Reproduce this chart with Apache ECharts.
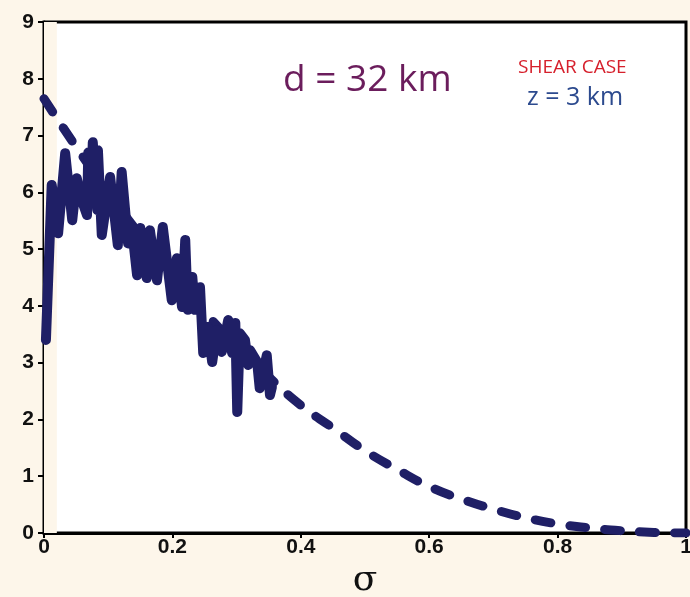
<!DOCTYPE html>
<html>
<head>
<meta charset="utf-8">
<title>d = 32 km</title>
<script src="https://cdn.jsdelivr.net/npm/echarts@6/dist/echarts.min.js"></script>
<style>
  html, body { margin: 0; padding: 0; background: #fdf6ea; overflow: hidden; }
  #main { width: 100vw; height: 100vh; }
</style>
</head>
<body>
<div id="main"></div>
<script>
// dashed reference curve (sigma, value)
var smoothSigma = [0, 0.05, 0.1, 0.15, 0.2, 0.25, 0.3, 0.35, 0.4, 0.45, 0.5,
                   0.55, 0.6, 0.65, 0.7, 0.75, 0.8, 0.85, 0.9, 0.95, 1];
var smoothVal = [7.65, 6.8, 6.0, 5.25, 4.6, 3.9, 3.3, 2.75, 2.25, 1.85, 1.45,
                 1.12, 0.82, 0.6, 0.42, 0.27, 0.16, 0.09, 0.04, 0.01, 0];

// noisy solid curve
var noisySigma = [0.003, 0.012, 0.022, 0.033, 0.044, 0.051, 0.059, 0.067, 0.069, 0.073,
                  0.076, 0.083, 0.084, 0.090, 0.103, 0.115, 0.121, 0.131, 0.137, 0.145,
                  0.150, 0.160, 0.165, 0.176, 0.185, 0.199, 0.207, 0.215, 0.220, 0.224,
                  0.231, 0.235, 0.243, 0.248, 0.255, 0.262, 0.269, 0.277, 0.287, 0.293,
                  0.298, 0.301, 0.305, 0.313, 0.318, 0.321, 0.332, 0.336, 0.347, 0.352, 0.355];
var noisyVal = [3.40, 6.13, 5.28, 6.69, 5.51, 6.25, 5.86, 5.60, 6.70, 5.86,
                6.88, 5.69, 6.74, 5.25, 6.27, 5.07, 6.36, 5.10, 5.37, 4.54,
                5.37, 4.49, 5.33, 4.45, 5.39, 4.10, 4.84, 3.98, 5.16, 3.93,
                4.51, 3.93, 4.33, 3.17, 3.63, 3.01, 3.57, 3.19, 3.75, 3.17,
                3.70, 2.13, 3.52, 3.40, 2.96, 3.22, 3.01, 2.55, 3.13, 2.43, 2.57];

var xTicks = [0, 0.2, 0.4, 0.6, 0.8, 1];
var yTicks = [0, 1, 2, 3, 4, 5, 6, 7, 8, 9];

function pairs(xs, ys) {
  var out = [];
  for (var i = 0; i < xs.length; i++) out.push([xs[i], ys[i]]);
  return out;
}

var chart = echarts.init(document.getElementById('main'));
var lineColor = '#1f1f66';
var labelFont = { color: '#111', fontSize: 21, fontWeight: 'bold', fontFamily: 'Liberation Sans, Arial, sans-serif' };

chart.setOption({
  backgroundColor: '#fdf6ea',
  animation: false,
  grid: {
    left: 44, right: 4, top: 22, bottom: 64,
    outerBoundsMode: 'none', containLabel: false,
    show: true, backgroundColor: '#ffffff', borderColor: '#000', borderWidth: 3
  },
  xAxis: {
    type: 'value', min: 0, max: 1, interval: 0.2,
    name: 'σ', nameLocation: 'middle', nameGap: 30,
    nameTextStyle: { fontSize: 36, fontFamily: 'DejaVu Serif, serif', color: '#111' },
    axisLine: { show: true, lineStyle: { color: '#000', width: 3 } },
    axisTick: { show: true, length: 5, lineStyle: { color: '#000', width: 2 } },
    axisLabel: Object.assign({ margin: 4, formatter: function (v) { return xTicks.indexOf(+v.toFixed(1)) >= 0 ? String(+v.toFixed(1)) : ''; } }, labelFont),
    splitLine: { show: false }
  },
  yAxis: {
    type: 'value', min: 0, max: 9, interval: 1,
    axisLine: { show: true, lineStyle: { color: '#000', width: 3 } },
    axisTick: { show: true, length: 6, lineStyle: { color: '#000', width: 2 } },
    axisLabel: Object.assign({ margin: 10, formatter: function (v) { return yTicks.indexOf(v) >= 0 ? String(v) : ''; } }, labelFont),
    splitLine: { show: false }
  },
  series: [
    {
      type: 'line', data: pairs(smoothSigma, smoothVal), smooth: true, symbol: 'none', z: 2,
      lineStyle: { color: lineColor, width: 9, type: [16, 19], cap: 'round' },
      markArea: {
        silent: true,
        itemStyle: { color: '#fdf6ea' },
        data: [[{ xAxis: 0 }, { xAxis: 0.02 }]]
      }
    },
    {
      type: 'line', data: pairs(noisySigma, noisyVal), symbol: 'none', z: 3,
      lineStyle: { color: lineColor, width: 10, cap: 'round', join: 'round' }
    }
  ],
  graphic: [
    { type: 'text', left: 283, top: 62, style: { text: 'd = 32 km', fill: '#6b1d5c', fontSize: 37, fontFamily: 'Open Sans, Noto Sans, sans-serif' } },
    { type: 'text', left: 518, top: 58, style: { text: 'SHEAR CASE', fill: '#d6202c', fontSize: 19, fontFamily: 'Open Sans, Noto Sans, sans-serif' } },
    { type: 'text', left: 527, top: 85, style: { text: 'z = 3 km', fill: '#2c4a8e', fontSize: 25, fontFamily: 'Open Sans, Noto Sans, sans-serif' } }
  ]
});
</script>
</body>
</html>
